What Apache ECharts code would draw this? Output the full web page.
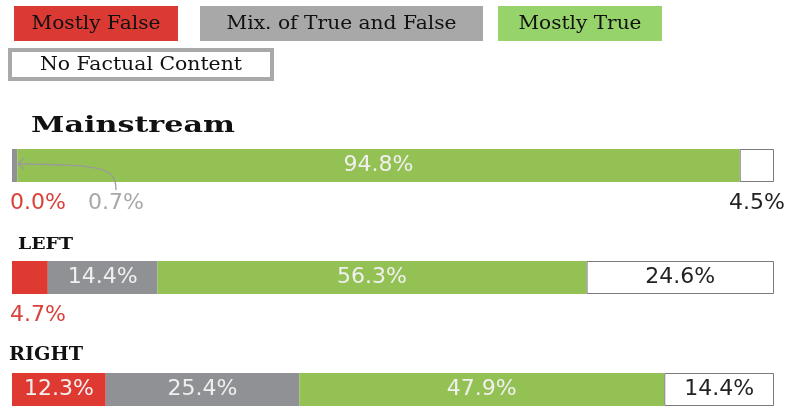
<!DOCTYPE html>
<html>
<head>
<meta charset="utf-8">
<script src="https://cdn.jsdelivr.net/npm/echarts@6/dist/echarts.min.js"></script>
<style>html,body{margin:0;padding:0;background:#fff}#c{width:788px;height:408px}</style>
</head>
<body>
<div id="c"></div>
<script>
var categories = ['Mainstream', 'LEFT', 'RIGHT'];
var seriesNames = ['Mostly False', 'Mix. of True and False', 'Mostly True', 'No Factual Content'];
var mostlyFalse = [0.0, 4.7, 12.3];
var mixTrueFalse = [0.7, 14.4, 25.4];
var mostlyTrue = [94.8, 56.3, 47.9];
var noFactual = [4.5, 24.6, 14.4];

var barColors = ['#de3a32', '#8f9194', '#94c154', '#ffffff'];
var legendColors = ['#db3a34', '#a8a8a8', '#96d46b', '#ffffff'];

var chart = echarts.init(document.getElementById('c'));

var mctx = document.createElement('canvas').getContext('2d');
function fit(text, font, w) {
  mctx.font = font;
  return w / mctx.measureText(text).width;
}
function fitText(text, font, cx, cy, w, color) {
  var s = fit(text, font, w);
  return {
    type: 'text', x: cx, y: cy, scaleX: s, scaleY: 1,
    style: { text: text, font: font, fill: color || '#111', align: 'center', verticalAlign: 'middle' },
    z: 10
  };
}

var legendBoxes = [
  { x: 14, y: 6, w: 164, h: 35, tw: 129 },
  { x: 200, y: 6, w: 283, h: 35, tw: 230 },
  { x: 498, y: 6, w: 164, h: 35, tw: 123 },
  { x: 10, y: 50, w: 262, h: 29, tw: 202 }
];
var legendFont = '18px "DejaVu Serif"';
var graphics = [];
legendBoxes.forEach(function (b, i) {
  graphics.push({
    type: 'rect', shape: { x: b.x, y: b.y, width: b.w, height: b.h },
    style: i === 3 ? { fill: '#fff', stroke: '#a9a9a9', lineWidth: 4 } : { fill: legendColors[i] },
    z: 5
  });
  graphics.push(fitText(seriesNames[i], legendFont, b.x + b.w / 2, b.y + b.h / 2 + 1, b.tw));
});
// group titles
graphics.push(fitText('Mainstream', 'bold 23px "DejaVu Serif"', 133, 126, 204));
graphics.push(fitText('LEFT', 'bold 16px "DejaVu Serif"', 45.5, 245, 55));
graphics.push(fitText('RIGHT', 'bold 18px "DejaVu Serif"', 46, 355.5, 74));
// arrow from 0.7% label to the thin grey segment
graphics.push({
  type: 'bezierCurve',
  shape: { x1: 116, y1: 190, cpx1: 116, cpy1: 166, cpx2: 100, cpy2: 165, x2: 18, y2: 164 },
  style: { stroke: '#9a9a9a', lineWidth: 1.3, fill: null }, z: 10
});
graphics.push({
  type: 'polyline',
  shape: { points: [[24, 158], [18, 164], [24, 169]] },
  style: { stroke: '#9a9a9a', lineWidth: 1.3, fill: null }, z: 10
});

var labelFont = { fontFamily: 'DejaVu Sans', fontSize: 22, fontWeight: 'normal' };
function inside(color) {
  return Object.assign({ show: true, position: 'inside', color: color, formatter: function (p) { return p.value.toFixed(1) + '%'; } }, labelFont);
}
function below(dx, color, align) {
  return Object.assign({ show: true, position: [dx, 54], align: align || 'left', verticalAlign: 'middle', color: color,
    formatter: function (p) { return p.value.toFixed(1) + '%'; } }, labelFont);
}

var allData = [mostlyFalse, mixTrueFalse, mostlyTrue, noFactual];
var series = allData.map(function (arr, si) {
  return {
    name: seriesNames[si], type: 'bar', stack: 'total', barWidth: 33,
    itemStyle: si === 3 ? { color: '#fff', borderColor: '#7a7a7a', borderWidth: 1 } : { color: barColors[si] },
    label: inside(si === 3 ? '#222' : '#f0f0f0'),
    data: arr.map(function (v) { return { value: v }; }),
    silent: true
  };
});
// outside labels for small segments
series[0].data[0].label = below(-2, '#d9413b');
series[1].data[0].label = below(76, '#a8a8a8');
series[3].data[0].label = below('50%', '#222', 'center');
series[0].data[1].label = below(-2, '#d9413b');

chart.setOption({
  animation: false,
  grid: { left: 12, width: 762, top: 165.5, height: 224, containLabel: false },
  xAxis: { type: 'value', min: 0, max: 100, show: false },
  yAxis: { type: 'category', data: categories, inverse: true, show: false, boundaryGap: false },
  series: series,
  graphic: graphics
});
</script>
</body>
</html>
